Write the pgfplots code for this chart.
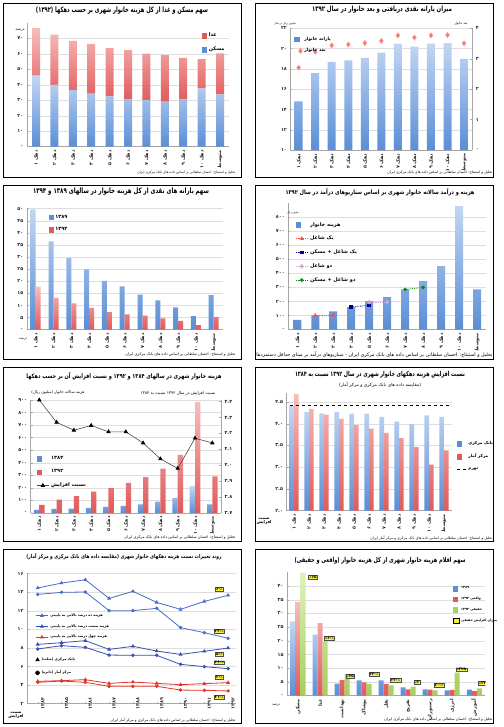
\documentclass[border=0pt]{standalone}
\usepackage{fontspec}
\usepackage{graphicx}
\usepackage{pgfplots}
\pgfplotsset{compat=1.18}
\setmainfont{DejaVu Sans}
\newfontfamily\arabicfont[Script=Arabic]{DejaVu Sans}
\TeXXeTstate=1
\newcommand{\fa}[1]{{\arabicfont #1}}
\newcommand{\tlfont}{\arabicfont\bfseries\fontsize{4.8}{6}\selectfont}
\newcommand{\lgfont}{\arabicfont\bfseries\fontsize{5}{6}\selectfont}
\newcommand{\ttl}[3]{\resizebox*{#1pt}{#2pt}{\arabicfont\bfseries\fontsize{6}{7}\selectfont #3}}
\newcommand{\rt}[2]{\resizebox{#1pt}{!}{\arabicfont\fontsize{5}{6}\selectfont #2}}
\newcommand{\srcnote}[2]{\resizebox{#1pt}{!}{\arabicfont\fontsize{4}{5}\selectfont #2}}
\definecolor{bluebar}{HTML}{5B8ED6}
\definecolor{bluelight}{HTML}{C2D6F2}
\definecolor{redbar}{HTML}{E05A5A}
\definecolor{redlight}{HTML}{F7BDBD}
\definecolor{greenbar}{HTML}{A6CF5C}
\definecolor{greenlight}{HTML}{E0F2BC}
\definecolor{lineblue}{HTML}{4A6CC4}
\definecolor{lineblue2}{HTML}{3B4FB0}
\definecolor{linered}{HTML}{E0352B}
\definecolor{ybox}{HTML}{F5F03A}
\pgfplotsset{legend image code/.code={\draw[mark repeat=2,mark phase=2,#1] plot coordinates {(0pt,0pt) (6pt,0pt) (12pt,0pt)};}}
\pgfplotsset{
  panel/.style={scale only axis, anchor=south west,
    axis x line*=bottom, axis y line*=left,
    axis line style={black!35}, every tick/.style={black!35}, major tick length=2pt,
    ymajorgrids, grid style={black!13, line width=0.4pt},
    tick label style={font=\tlfont, text=black!85},
    x tick label style={rotate=90, anchor=east},
    legend style={draw=none, fill=none, font=\lgfont, row sep=1.5pt, inner sep=0pt},
    legend cell align=left},
  rightpanel/.style={scale only axis, anchor=south west,
    axis x line=none, axis y line*=right,
    axis line style={black!35}, every tick/.style={black!35}, major tick length=2pt,
    tick label style={font=\tlfont, text=black!85},
    legend style={draw=none, fill=none, font=\lgfont, row sep=1.5pt, inner sep=0pt},
    legend cell align=left},
  declabels/.style={xtick={0,...,10}, xticklabels={\fa{\beginR دهک ۱\endR},\fa{\beginR دهک ۲\endR},\fa{\beginR دهک ۳\endR},\fa{\beginR دهک ۴\endR},\fa{\beginR دهک ۵\endR},\fa{\beginR دهک ۶\endR},\fa{\beginR دهک ۷\endR},\fa{\beginR دهک ۸\endR},\fa{\beginR دهک ۹\endR},\fa{\beginR دهک ۱۰\endR},\fa{\beginR متوسط\endR}}},
  bluefill/.style={draw=none, top color=bluelight, bottom color=bluebar},
  redfill/.style={draw=none, top color=redlight, bottom color=redbar},
  greenfill/.style={draw=none, top color=greenlight, bottom color=greenbar},
  bluesq/.style={legend image code/.code={\fill[bluebar] (0pt,-2.2pt) rectangle (4.4pt,2.2pt);}},
  redsq/.style={legend image code/.code={\fill[redbar] (0pt,-2.2pt) rectangle (4.4pt,2.2pt);}},
  greensq/.style={legend image code/.code={\fill[greenbar] (0pt,-2.2pt) rectangle (4.4pt,2.2pt);}},
  yellowsq/.style={legend image code/.code={\filldraw[fill=ybox, draw=black, line width=0.4pt] (0pt,-2.2pt) rectangle (6pt,2.2pt);}},
}
\tikzset{yb/.style={fill=ybox, draw=black!70, line width=0.3pt, inner sep=0.7pt, font=\arabicfont\bfseries\fontsize{4}{4.5}\selectfont}}
\begin{document}
\begin{tikzpicture}[x=1pt,y=1pt]
\useasboundingbox (0,0) rectangle (503,727);
\fill[white] (0,0) rectangle (503,727);

%================ Panel 1 =================
\begin{axis}[panel, at={(26.8pt,580.3pt)}, width=202.4pt, height=123.9pt,
  ymin=0, ymax=80, ytick={0,10,...,70}, yticklabels={۰,۱۰,۲۰,۳۰,۴۰,۵۰,۶۰,۷۰},
  xmin=-0.5, xmax=10.5, declabels, stack plots=y,
  legend style={at={(0.865,0.935)}, anchor=north west, row sep=4.5pt}]
\addplot[ybar, bar width=8pt, bluefill, forget plot] coordinates {(0,45.9)(1,39.9)(2,36.6)(3,34.3)(4,32.5)(5,30.8)(6,30.2)(7,29.1)(8,30.8)(9,37.7)(10,33.8)};
\addplot[ybar, bar width=8pt, redfill, forget plot] coordinates {(0,30.6)(1,32.5)(2,31.7)(3,32.1)(4,31.1)(5,31.5)(6,29.9)(7,30.0)(8,26.5)(9,18.8)(10,26.5)};
\addlegendimage{redsq}\addlegendentry{\fa{\beginR غذا\endR}}
\addlegendimage{bluesq}\addlegendentry{\fa{\beginR مسکن\endR}}
\end{axis}
\node at (122,716) {\ttl{172}{7.5}{\beginR سهم مسکن و غذا از کل هزینه خانوار شهری بر حسب دهکها (۱۳۹۲)\endR}};
\node at (20,697) {\rt{9}{\beginR درصد\endR}};
\node[anchor=east] at (239,554) {\srcnote{98}{\beginR تحلیل و استنتاج: احسان سلطانی بر اساس داده های بانک مرکزی ایران\endR}};

%================ Panel 2 =================
\begin{axis}[panel, at={(290.4pt,576.9pt)}, width=181.9pt, height=121.7pt,
  ymin=10, ymax=22, ytick={10,12,...,22}, yticklabels={۱۰,۱۲,۱۴,۱۶,۱۸,۲۰,۲۲},
  xmin=-0.5, xmax=10.5, declabels]
\addplot[ybar, bar width=8pt, bluefill] coordinates {(0,14.8)(1,17.6)(2,18.7)(3,18.85)(4,19.1)(5,19.6)(6,20.5)(7,20.2)(8,20.5)(9,20.55)(10,19.0)};
\end{axis}
\begin{axis}[rightpanel, at={(290.4pt,576.9pt)}, width=181.9pt, height=121.7pt,
  ymin=0, ymax=4, ytick={0,...,4}, yticklabels={۰,۱,۲,۳,۴}, xmin=-0.5, xmax=10.5,
  legend style={at={(0.02,0.95)}, anchor=north west, row sep=3pt, font=\arabicfont\bfseries\fontsize{4.4}{5}\selectfont}]
\addlegendimage{bluesq}
\addlegendentry{\fa{\beginR یارانه خانوار\endR}}
\addplot[only marks, mark=diamond*, mark size=2.6pt, mark options={fill=red!55, draw=red!40}] coordinates {(0,2.71)(1,3.23)(2,3.44)(3,3.47)(4,3.52)(5,3.59)(6,3.77)(7,3.70)(8,3.77)(9,3.78)(10,3.51)};
\addlegendentry{\fa{\beginR بعد خانوار\endR}}
\end{axis}
\node at (382,717) {\ttl{140}{7.2}{\beginR میزان یارانه نقدی دریافتی و بعد خانوار در سال ۱۳۹۲\endR}};
\node at (285,703) {\rt{22}{\beginR میلیون ریال در سال\endR}};
\node at (461,703) {\rt{13}{\beginR بعد خانوار\endR}};
\node[anchor=east] at (496,554) {\srcnote{105}{\beginR تحلیل و استنتاج: احسان سلطانی بر اساس داده های بانک مرکزی ایران\endR}};

%================ Panel 3 =================
\begin{axis}[panel, at={(26.8pt,397.3pt)}, width=195.8pt, height=121pt,
  ymin=0, ymax=50, ytick={0,5,...,50}, yticklabels={۰,۵,۱۰,۱۵,۲۰,۲۵,۳۰,۳۵,۴۰,۴۵,۵۰},
  xmin=-0.5, xmax=10.5, declabels,
  legend style={at={(0.11,0.965)}, anchor=north west, row sep=3.5pt}]
\addplot[ybar, bar width=5pt, bar shift=-2.5pt, bluefill, forget plot] coordinates {(0,49.7)(1,36.5)(2,29.6)(3,24.9)(4,20.2)(5,17.9)(6,14.5)(7,12.1)(8,9.2)(9,5.6)(10,14.3)};
\addplot[ybar, bar width=5pt, bar shift=2.5pt, redfill, forget plot] coordinates {(0,17.8)(1,13.1)(2,10.9)(3,9.0)(4,7.3)(5,6.3)(6,5.8)(7,4.7)(8,3.6)(9,1.9)(10,5.2)};
\addlegendimage{bluesq}\addlegendentry{۱۳۸۹}
\addlegendimage{redsq}\addlegendentry{۱۳۹۴}
\end{axis}
\node at (121,535) {\ttl{176}{7.5}{\beginR سهم یارانه های نقدی از کل هزینه خانوار در سالهای ۱۳۸۹ و ۱۳۹۴\endR}};
\node at (23,388) {\rt{8}{\beginR درصد\endR}};
\node[anchor=east] at (239,372) {\srcnote{110}{\beginR تحلیل و استنتاج: احسان سلطانی بر اساس داده های بانک مرکزی ایران\endR}};

%================ Panel 4 =================
\begin{axis}[panel, at={(288.3pt,397.3pt)}, width=197.7pt, height=126.8pt,
  ymin=0, ymax=900, ytick={0,100,...,800}, yticklabels={۰,۱۰۰,۲۰۰,۳۰۰,۴۰۰,۵۰۰,۶۰۰,۷۰۰,۸۰۰},
  xmin=-0.5, xmax=10.5, declabels,
  legend style={at={(0.035,0.865)}, anchor=north west, row sep=4.5pt, font=\arabicfont\bfseries\fontsize{5}{6}\selectfont}]
\addplot[ybar, bar width=8pt, bluefill, forget plot] coordinates {(0,69)(1,102)(2,130)(3,161)(4,203)(5,232)(6,286)(7,345)(8,451)(9,877)(10,286)};
\addlegendimage{bluesq}
\addlegendentry{\fa{\beginR هزینه خانوار\endR}}
\addplot[red!70, densely dotted, thick, mark=triangle*, mark size=1.6pt, mark options={solid}] coordinates {(1,102)(2,102)};
\addlegendentry{\fa{\beginR یک شاغل\endR}}
\addplot[blue!55!black, densely dotted, thick, mark=square*, mark size=1.4pt, mark options={solid}] coordinates {(3,161)(4,173)};
\addlegendentry{\fa{\beginR یک شاغل + مسکن\endR}}
\addplot[violet!35, densely dotted, thick, mark=diamond*, mark size=1.8pt, mark options={solid}] coordinates {(4,196)(5,196)};
\addlegendentry{\fa{\beginR دو شاغل\endR}}
\addplot[green!55!black, densely dotted, thick, mark=*, mark size=1.4pt, mark options={solid}] coordinates {(6,286)(7,300)};
\addlegendentry{\fa{\beginR دو شاغل + مسکن\endR}}
\end{axis}
\node at (380,535) {\ttl{189}{7.2}{\beginR هزینه و درآمد سالانه خانوار شهری بر اساس سناریوهای درآمد در سال ۱۳۹۲\endR}};
\node at (293,514) {\rt{12}{\beginR میلیون ریال\endR}};
\node[anchor=east] at (496,372) {\srcnote{236}{\beginR تحلیل و استنتاج: احسان سلطانی بر اساس داده های بانک مرکزی ایران - سناریوهای درآمد بر مبنای حداقل دستمزدها\endR}};

%================ Panel 5 =================
\begin{axis}[panel, at={(30.6pt,214pt)}, width=190.4pt, height=113pt,
  ymin=0, ymax=900, ytick={0,100,...,900}, yticklabels={۰,۱۰۰,۲۰۰,۳۰۰,۴۰۰,۵۰۰,۶۰۰,۷۰۰,۸۰۰,۹۰۰},
  xmin=-0.5, xmax=10.5, declabels]
\addplot[ybar, bar width=5.3pt, bar shift=-2.65pt, bluefill] coordinates {(0,24)(1,32)(2,34)(3,40)(4,48)(5,56)(6,69)(7,90)(8,119)(9,215)(10,69)};
\addplot[ybar, bar width=5.3pt, bar shift=2.65pt, redfill] coordinates {(0,64)(1,106)(2,135)(3,170)(4,199)(5,239)(6,286)(7,353)(8,462)(9,886)(10,292)};
\end{axis}
\begin{axis}[rightpanel, at={(30.6pt,214pt)}, width=190.4pt, height=113pt,
  ymin=3.7, ymax=4.41, ytick={3.7,3.8,...,4.41}, yticklabels={۳.۷,۳.۸,۳.۹,۴.۰,۴.۱,۴.۲,۴.۳,۴.۴},
  xmin=-0.5, xmax=10.5,
  legend style={at={(0.03,0.52)}, anchor=north west, row sep=4.5pt}]
\addlegendimage{bluesq}
\addlegendentry{۱۳۸۴}
\addlegendimage{redsq}
\addlegendentry{۱۳۹۲}
\addplot[black!70, semithick, mark=triangle*, mark size=2pt, mark options={solid, black}] coordinates {(0,4.41)(1,4.27)(2,4.22)(3,4.25)(4,4.21)(5,4.21)(6,4.14)(7,4.04)(8,3.98)(9,4.17)(10,4.14)};
\addlegendentry{\fa{\beginR نسبت افزایش\endR}}
\end{axis}
\node at (124,351) {\ttl{195}{7.5}{\beginR هزینه خانوار شهری در سالهای ۱۳۸۴ و ۱۳۹۲ و نسبت افزایش آن بر حسب دهکها\endR}};
\node at (58,334) {\rt{53}{\beginR هزینه سالانه خانوار (میلیون ریال)\endR}};
\node at (178,334) {\rt{75}{\beginR نسبت افزایش در سال ۱۳۹۲ نسبت به ۱۳۸۴\endR}};
\node[anchor=east] at (239,189) {\srcnote{111}{\beginR تحلیل و استنتاج: احسان سلطانی بر اساس داده های بانک مرکزی ایران\endR}};

%================ Panel 6 =================
\begin{axis}[panel, at={(286.5pt,216.3pt)}, width=165pt, height=117.4pt,
  ymin=2, ymax=4.7, ytick={2,2.5,...,4.5}, yticklabels={۲.۰,۲.۵,۳.۰,۳.۵,۴.۰,۴.۵},
  xmin=-0.5, xmax=10.5, declabels,
  legend style={at={(1.03,0.61)}, anchor=north west, row sep=4pt, font=\arabicfont\bfseries\fontsize{4.2}{5}\selectfont}]
\addplot[ybar, bar width=4.6pt, bluefill, bar shift=-2.3pt, forget plot] coordinates {(0,4.41)(1,4.27)(2,4.24)(3,4.27)(4,4.23)(5,4.23)(6,4.16)(7,4.05)(8,3.99)(9,4.19)(10,4.16)};
\addplot[ybar, bar width=4.6pt, redfill, bar shift=2.3pt, forget plot] coordinates {(0,4.68)(1,4.34)(2,4.21)(3,4.11)(4,3.97)(5,3.89)(6,3.79)(7,3.67)(8,3.46)(9,3.06)(10,3.39)};
\addlegendimage{bluesq}\addlegendentry{\fa{\beginR بانک مرکزی\endR}}
\addlegendimage{redsq}\addlegendentry{\fa{\beginR مرکز آمار\endR}}
\addplot[black, dashed, thick, legend image code/.code={\draw[black, dashed, thick] (0pt,0pt) -- (9pt,0pt);}] coordinates {(-0.3,4.43)(10.3,4.43)};
\addlegendentry{\fa{\beginR تورم\endR}}
\end{axis}
\node at (380,352) {\ttl{170}{6.8}{\beginR نسبت افزایش هزینه دهکهای خانوار شهری در سال ۱۳۹۲ نسبت به ۱۳۸۴\endR}};
\node at (380,342) {\rt{82}{\beginR (مقایسه داده های بانک مرکزی و مرکز آمار)\endR}};
\node[font=\arabicfont\bfseries\fontsize{4}{4.6}\selectfont, align=center] at (264,206) {\fa{\beginR نسبت\endR}\\\fa{\beginR افزایش\endR}};
\node[anchor=east] at (496,189) {\srcnote{122}{\beginR تحلیل و استنتاج: احسان سلطانی بر اساس داده های بانک مرکزی و مرکز آمار ایران\endR}};

%================ Panel 7 =================
\begin{axis}[panel, at={(27pt,23.3pt)}, width=209pt, height=130pt,
  ymin=2, ymax=16, ytick={2,4,...,16}, yticklabels={۲,۴,۶,۸,۱۰,۱۲,۱۴,۱۶},
  xmin=1383.55, xmax=1392.33, xtick={1384,...,1392},
  xticklabels={۱۳۸۴,۱۳۸۵,۱۳۸۶,۱۳۸۷,۱۳۸۸,۱۳۸۹,۱۳۹۰,۱۳۹۱,۱۳۹۲},
  x tick label style={rotate=0, anchor=north},
  legend style={at={(0.04,0.71)}, anchor=north west, row sep=2.6pt, font=\arabicfont\bfseries\fontsize{3.5}{4}\selectfont}]
\addplot[lineblue, thick, mark=triangle*, mark size=1.5pt] coordinates {(1384,14.46)(1385,14.99)(1386,15.35)(1387,13.34)(1388,14.10)(1389,12.91)(1390,12.16)(1391,13.02)(1392,13.67)};
\addlegendentry{\fa{\beginR هزینه ده درصد بالایی به پایینی\endR}}
\addplot[lineblue2, thick, mark=triangle*, mark size=1.5pt] coordinates {(1384,8.39)(1385,8.57)(1386,8.79)(1387,7.85)(1388,8.18)(1389,7.67)(1390,7.31)(1391,7.64)(1392,8.00)};
\addlegendentry{\fa{\beginR هزینه بیست درصد بالایی به پایینی\endR}}
\addplot[linered, thick, mark=triangle*, mark size=1.5pt] coordinates {(1384,4.41)(1385,4.48)(1386,4.59)(1387,4.19)(1388,4.33)(1389,4.19)(1390,4.05)(1391,4.16)(1392,4.27)};
\addlegendentry{\fa{\beginR هزینه چهل درصد بالایی به پایینی\endR}}
\addplot[lineblue, thick, mark=*, mark size=1.3pt, forget plot] coordinates {(1384,13.77)(1385,13.99)(1386,14.03)(1387,12.02)(1388,12.02)(1389,12.27)(1390,10.19)(1391,9.65)(1392,9.04)};
\addplot[lineblue2, thick, mark=*, mark size=1.3pt, forget plot] coordinates {(1384,7.89)(1385,8.25)(1386,8.07)(1387,7.24)(1388,7.21)(1389,7.21)(1390,6.24)(1391,5.99)(1392,5.77)};
\addplot[linered, thick, mark=*, mark size=1.3pt, forget plot] coordinates {(1384,4.30)(1385,4.44)(1386,4.30)(1387,3.87)(1388,3.87)(1389,3.87)(1390,3.47)(1391,3.44)(1392,3.37)};
\node[yb] at (axis cs:1391.63,14.38) {٪-۶};
\node[yb] at (axis cs:1391.63,9.83) {٪-۳۴};
\node[yb] at (axis cs:1391.63,7.35) {٪-۵};
\node[yb] at (axis cs:1391.63,6.42) {٪-۲۶};
\node[yb] at (axis cs:1391.63,4.84) {٪-۳};
\node[yb] at (axis cs:1391.63,2.72) {٪-۲۱};
\end{axis}
\begin{axis}[scale only axis, anchor=south west, at={(27pt,23.3pt)}, width=209pt, height=130pt,
  hide axis, xmin=0, xmax=1, ymin=0, ymax=1,
  legend style={draw=none, fill=none, font=\arabicfont\bfseries\fontsize{3.5}{4}\selectfont, row sep=4.5pt, inner sep=0pt, at={(0.04,0.37)}, anchor=north west},
  legend cell align=left]
\addlegendimage{only marks, mark=triangle*, mark size=2.2pt, black}
\addlegendentry{\fa{\beginR بانک مرکزی (مثلث)\endR}}
\addlegendimage{only marks, mark=*, mark size=2pt, black}
\addlegendentry{\fa{\beginR مرکز آمار (دایره)\endR}}
\end{axis}
\node at (124,170) {\ttl{195}{6.5}{\beginR روند تغییرات نسبت هزینه دهکهای خانوار شهری (مقایسه داده های بانک مرکزی و مرکز آمار)\endR}};
\node[font=\arabicfont\bfseries\fontsize{4}{4.6}\selectfont, align=center] at (16,12) {\fa{\beginR نسبت\endR}\\\fa{\beginR افزایش\endR}};
\node[anchor=east] at (239,7) {\srcnote{125}{\beginR تحلیل و استنتاج: احسان سلطانی بر اساس داده های بانک مرکزی و مرکز آمار ایران\endR}};

%================ Panel 8 =================
\begin{axis}[panel, at={(287pt,31.3pt)}, width=198.3pt, height=123.4pt,
  ymin=0, ymax=45, ytick={0,5,...,40}, yticklabels={۰,۵,۱۰,۱۵,۲۰,۲۵,۳۰,۳۵,۴۰},
  xmin=-0.5, xmax=8.5, xtick={0,...,8},
  xticklabels={\fa{\beginR مسکن\endR},\fa{\beginR غذا\endR},\fa{\beginR بهداشت\endR},\fa{\beginR پوشاک\endR},\fa{\beginR نقل\endR},\fa{\beginR تفریح\endR},\fa{\beginR رستوران\endR},\fa{\beginR انرژی\endR},\fa{\beginR آموزش\endR}},
  legend style={at={(0.835,0.9)}, anchor=north west, row sep=2.8pt, font=\arabicfont\bfseries\fontsize{3.3}{4}\selectfont}]
\addplot[ybar, bar width=5pt, bar shift=-5pt, bluefill, forget plot] coordinates {(0,27.1)(1,22.3)(2,4.4)(3,5.6)(4,5.6)(5,3.0)(6,2.3)(7,1.9)(8,2.2)};
\addplot[ybar, bar width=5pt, bar shift=0pt, redfill, forget plot] coordinates {(0,34.2)(1,26.5)(2,5.7)(3,4.9)(4,4.3)(5,2.3)(6,2.2)(7,2.1)(8,1.7)};
\addplot[ybar, bar width=5pt, bar shift=5pt, greenfill, forget plot] coordinates {(0,44.9)(1,19.9)(2,8.0)(3,4.3)(4,3.8)(5,3.3)(6,1.9)(7,8.4)(8,2.7)};
\addlegendimage{bluesq}\addlegendentry{۱۳۸۹}
\addlegendimage{redsq}\addlegendentry{\fa{\beginR واقعی ۱۳۹۴\endR}}
\addlegendimage{greensq}\addlegendentry{\fa{\beginR حقیقی ۱۳۹۴\endR}}
\addlegendimage{yellowsq}\addlegendentry{\fa{\beginR میزان افزایش حقیقی\endR}}
\node[yb] at (axis cs:0.68,43.3) {٪۶۵};
\node[yb] at (axis cs:1.42,20.9) {٪-۱۶};
\node[yb] at (axis cs:2.37,7.2) {٪۴۵};
\node[yb] at (axis cs:3.45,7.9) {٪-۲۴};
\node[yb] at (axis cs:4.43,5.6) {٪-۳۲};
\node[yb] at (axis cs:5.41,4.9) {٪۲};
\node[yb] at (axis cs:6.4,3.8) {٪-۲۰};
\node[yb] at (axis cs:7.41,9.5) {٪۳۲۸};
\node[yb] at (axis cs:8.38,4.6) {٪۲۲};
\end{axis}
\node at (380,166) {\ttl{171}{6.8}{\beginR سهم اقلام هزینه خانوار شهری از کل هزینه خانوار (واقعی و حقیقی)\endR}};
\node at (276,22) {\rt{8}{\beginR درصد\endR}};
\node[anchor=east] at (496,7) {\srcnote{108}{\beginR تحلیل و استنتاج: احسان سلطانی بر اساس داده های بانک مرکزی ایران\endR}};

%================ Frames =================
\foreach \x/\y in {3/550,255/550,3/368,255/368,3/186,255/186,3/4,255/4}
  \draw[line width=0.9pt] (\x,\y) rectangle ++(238,174);
\end{tikzpicture}
\end{document}
